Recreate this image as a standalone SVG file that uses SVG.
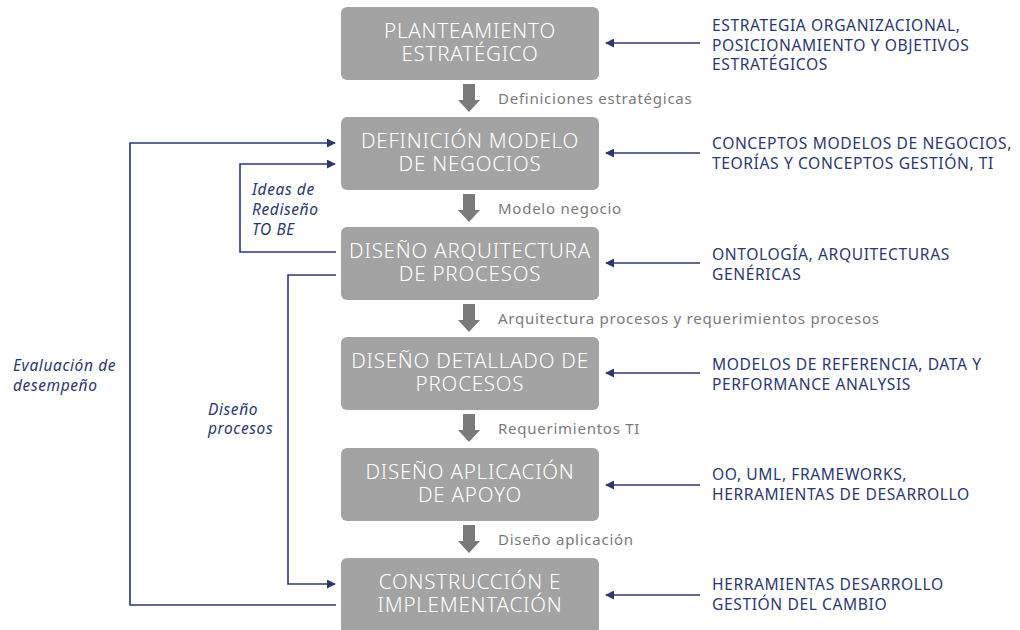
<svg xmlns="http://www.w3.org/2000/svg" width="1020" height="630" viewBox="0 0 1020 630">
  <defs>
    <style>
      .box { fill: #a3a3a3; }
      .boxText { fill: #ffffff; font-family: "Noto Sans", Lato, sans-serif; font-weight: 300; font-size: 20.5px; letter-spacing: 0.8px; text-anchor: middle; }
      .step { fill: #7a7a7a; font-family: "Noto Sans", Lato, sans-serif; font-size: 15px; letter-spacing: 0.75px; }
      .input { fill: #2b3870; font-family: "Noto Sans", Lato, sans-serif; font-size: 15.6px; letter-spacing: 0.6px; }
      .note { fill: #2b3870; font-family: "Noto Sans", Lato, sans-serif; font-size: 15.5px; letter-spacing: 0.6px; font-style: italic; }
      .link { fill: none; stroke: #2b3870; stroke-width: 1.6; }
      .down { fill: #7a7a7a; }
    </style>
    <marker id="head" viewBox="0 0 10 10" refX="9" refY="5" markerWidth="9" markerHeight="9" markerUnits="userSpaceOnUse" orient="auto">
      <path d="M0,0 L10,5 L0,10 z" fill="#2b3870"/>
    </marker>
    <path id="downArrow" d="M-6,0 H6 V16 H11 L0,28 L-11,16 H-6 z"/>
  </defs>

  <!-- process boxes -->
  <g id="planteamiento">
    <rect class="box" x="341" y="7" width="258" height="73" rx="6"/>
    <text class="boxText" x="470" y="38">PLANTEAMIENTO<tspan x="470" dy="23">ESTRATÉGICO</tspan></text>
  </g>
  <g id="modelo-negocios">
    <rect class="box" x="341" y="117" width="258" height="73" rx="6"/>
    <text class="boxText" x="470" y="148">DEFINICIÓN MODELO<tspan x="470" dy="23">DE NEGOCIOS</tspan></text>
  </g>
  <g id="arquitectura-procesos">
    <rect class="box" x="341" y="227" width="258" height="73" rx="6"/>
    <text class="boxText" x="470" y="258">DISEÑO ARQUITECTURA<tspan x="470" dy="23">DE PROCESOS</tspan></text>
  </g>
  <g id="detallado-procesos">
    <rect class="box" x="341" y="337" width="258" height="73" rx="6"/>
    <text class="boxText" x="470" y="368">DISEÑO DETALLADO DE<tspan x="470" dy="23">PROCESOS</tspan></text>
  </g>
  <g id="aplicacion-apoyo">
    <rect class="box" x="341" y="448" width="258" height="73" rx="6"/>
    <text class="boxText" x="470" y="479">DISEÑO APLICACIÓN<tspan x="470" dy="23">DE APOYO</tspan></text>
  </g>
  <g id="construccion">
    <rect class="box" x="341" y="558" width="258" height="76" rx="6"/>
    <text class="boxText" x="470" y="589">CONSTRUCCIÓN E<tspan x="470" dy="23">IMPLEMENTACIÓN</tspan></text>
  </g>

  <!-- inputs on the right -->
  <g id="input-1">
    <text class="input" x="712" y="31">ESTRATEGIA ORGANIZACIONAL,<tspan x="712" dy="20">POSICIONAMIENTO Y OBJETIVOS</tspan><tspan x="712" dy="19">ESTRATÉGICOS</tspan></text>
  </g>
  <g id="input-2">
    <text class="input" x="712" y="149">CONCEPTOS MODELOS DE NEGOCIOS,<tspan x="712" dy="20">TEORÍAS Y CONCEPTOS GESTIÓN, TI</tspan></text>
  </g>
  <g id="input-3">
    <text class="input" x="712" y="260">ONTOLOGÍA, ARQUITECTURAS<tspan x="712" dy="20">GENÉRICAS</tspan></text>
  </g>
  <g id="input-4">
    <text class="input" x="712" y="370">MODELOS DE REFERENCIA, DATA Y<tspan x="712" dy="20">PERFORMANCE ANALYSIS</tspan></text>
  </g>
  <g id="input-5">
    <text class="input" x="712" y="480">OO, UML, FRAMEWORKS,<tspan x="712" dy="20">HERRAMIENTAS DE DESARROLLO</tspan></text>
  </g>
  <g id="input-6">
    <text class="input" x="712" y="590">HERRAMIENTAS DESARROLLO<tspan x="712" dy="20">GESTIÓN DEL CAMBIO</tspan></text>
  </g>

  <!-- feedback labels -->
  <g id="notes">
    <text class="note" x="252" y="195">Ideas de<tspan x="252" dy="20">Rediseño</tspan><tspan x="252" dy="20">TO BE</tspan></text>
    <text class="note" x="13" y="371">Evaluación de<tspan x="13" dy="20">desempeño</tspan></text>
    <text class="note" x="208" y="415">Diseño<tspan x="208" dy="19">procesos</tspan></text>
  </g>

  <!-- connectors -->
  <g id="connectors">
    <use href="#downArrow" class="down" x="469" y="84"/>
    <use href="#downArrow" class="down" x="469" y="194"/>
    <use href="#downArrow" class="down" x="469" y="304"/>
    <use href="#downArrow" class="down" x="469" y="414"/>
    <use href="#downArrow" class="down" x="469" y="525"/>
    <text class="step" x="498" y="104">Definiciones estratégicas</text>
    <text class="step" x="498" y="214">Modelo negocio</text>
    <text class="step" x="498" y="324">Arquitectura procesos y requerimientos procesos</text>
    <text class="step" x="498" y="434">Requerimientos TI</text>
    <text class="step" x="498" y="545">Diseño aplicación</text>

    <line class="link" x1="700" y1="43" x2="606" y2="43" marker-end="url(#head)"/>
    <line class="link" x1="700" y1="153" x2="606" y2="153" marker-end="url(#head)"/>
    <line class="link" x1="700" y1="263" x2="606" y2="263" marker-end="url(#head)"/>
    <line class="link" x1="700" y1="373" x2="606" y2="373" marker-end="url(#head)"/>
    <line class="link" x1="700" y1="485" x2="606" y2="485" marker-end="url(#head)"/>
    <line class="link" x1="700" y1="595" x2="606" y2="595" marker-end="url(#head)"/>

    <polyline class="link" points="336,605 130,605 130,143 335,143" marker-end="url(#head)"/>
    <polyline class="link" points="336,252 240,252 240,164 335,164" marker-end="url(#head)"/>
    <polyline class="link" points="336,275 288,275 288,584 335,584" marker-end="url(#head)"/>
  </g>
</svg>
